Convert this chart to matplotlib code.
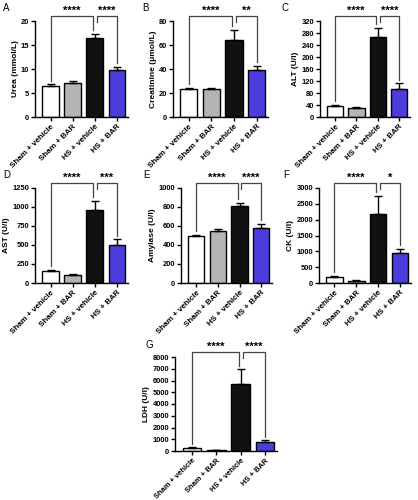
import matplotlib
matplotlib.use("Agg")
import matplotlib.pyplot as plt
import numpy as np

plt.rcParams['font.family'] = ['Liberation Sans', 'DejaVu Sans']
plt.rcParams['font.weight'] = 'bold'

groups = ["Sham + vehicle", "Sham + BAR", "HS + vehicle", "HS + BAR"]
colors = ["#ffffff", "#b4b4b4", "#111111", "#4a3ddb"]

urea = [6.4, 7.0, 16.4, 9.7]
urea_err = [0.4, 0.4, 0.9, 0.8]
creat = [23.5, 23.3, 64.5, 39.0]
creat_err = [1.0, 1.0, 8.0, 3.5]
alt = [38, 30, 268, 95]
alt_err = [3, 2, 28, 17]
ast = [155, 105, 965, 500]
ast_err = [15, 10, 110, 75]
amylase = [490, 550, 815, 580]
amylase_err = [15, 20, 30, 40]
ck = [180, 70, 2180, 950]
ck_err = [40, 15, 560, 120]
ldh = [250, 90, 5700, 750]
ldh_err = [50, 20, 1250, 150]

panels = [
    ("A", "Urea (mmol/L)", urea, urea_err, [0, 5, 10, 15, 20], ("****", "****")),
    ("B", "Creatinine (μmol/L)", creat, creat_err, [0, 20, 40, 60, 80], ("****", "**")),
    ("C", "ALT (U/l)", alt, alt_err, list(range(0, 321, 40)), ("****", "****")),
    ("D", "AST (U/l)", ast, ast_err, [0, 250, 500, 750, 1000, 1250], ("****", "***")),
    ("E", "Amylase (U/l)", amylase, amylase_err, [0, 200, 400, 600, 800, 1000], ("****", "****")),
    ("F", "CK (U/l)", ck, ck_err, [0, 500, 1000, 1500, 2000, 2500, 3000], ("****", "*")),
    ("G", "LDH (U/l)", ldh, ldh_err, list(range(0, 8001, 1000)), ("****", "****")),
]

# axes rectangles in pixels: left, right, top, bottom
rects = [
    (35, 128, 21, 117), (173, 268, 21, 117), (320, 410, 21, 117),
    (35, 128, 188, 283), (181, 272, 188, 283), (319, 411, 188, 283),
    (175, 277, 357, 451),
]
letter_pos = [(3, 8), (142, 8), (281, 8), (3, 175), (143, 175), (283, 175), (146, 345)]
W, H = 418, 500
fig = plt.figure(figsize=(W / 100, H / 100), dpi=100)

for (letter, ylabel, vals, errs, ticks, stars), (l, r, t, b), (lx, ly) in zip(panels, rects, letter_pos):
    ax = fig.add_axes([l / W, 1 - b / H, (r - l) / W, (b - t) / H])
    x = np.arange(len(groups))
    ax.bar(x, vals, width=0.76, color=colors, edgecolor="black", linewidth=1.0, zorder=2)
    ax.errorbar(x, vals, yerr=[np.zeros(len(vals)), errs], fmt="none", ecolor="black",
                elinewidth=1.0, capsize=3, capthick=1.0, zorder=3)
    ymax = ticks[-1]
    ax.set_ylim(0, ymax)
    ax.set_yticks(ticks)
    ax.set_xlim(-0.7, 3.5)
    ax.set_xticks(x)
    xfs = 5.4 if letter == "G" else 5.8
    ax.set_xticklabels(groups, rotation=45, ha="right", rotation_mode="anchor", fontsize=xfs, fontweight="bold")
    ax.tick_params(axis="y", labelsize=5.4, length=3, width=1, pad=1.2)
    ax.tick_params(axis="x", length=3, width=1, pad=1.5)
    for lab in ax.get_yticklabels():
        lab.set_fontweight("bold")
    ax.set_ylabel(ylabel, fontsize=6.0, fontweight="bold", labelpad=1.5)
    for s in ["top", "right"]:
        ax.spines[s].set_visible(False)
    for s in ["left", "bottom"]:
        ax.spines[s].set_linewidth(1.0)

    tops = [v + e for v, e in zip(vals, errs)]
    yb = 1.05 * ymax
    off = 0.04 * ymax
    short = yb - 0.06 * ymax
    lc = "#444444"
    # bracket 1: group 0 to group 2
    ax.plot([0, 0, 1.92, 1.92], [tops[0] + off, yb, yb, min(tops[2] + off, short)],
            color=lc, lw=0.9, clip_on=False)
    # bracket 2: group 2 to group 3
    ax.plot([2.08, 2.08, 3, 3], [short, yb, yb, tops[3] + off],
            color=lc, lw=0.9, clip_on=False)
    ax.text(0.96, yb + 0.005 * ymax, stars[0], ha="center", va="bottom", fontsize=8, fontweight="bold", clip_on=False)
    ax.text(2.54, yb + 0.005 * ymax, stars[1], ha="center", va="bottom", fontsize=8, fontweight="bold", clip_on=False)

    fig.text(lx / W, 1 - ly / H, letter, fontsize=7, fontweight="normal", ha="left", va="center")

fig.savefig("out.png", dpi=100)
